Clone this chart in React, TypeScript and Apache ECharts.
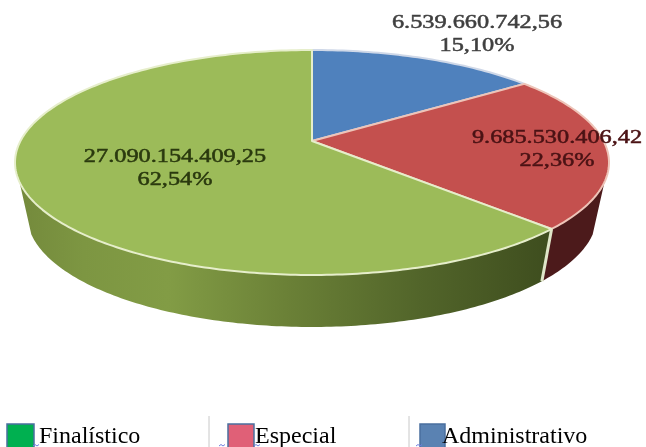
import React, { useEffect, useRef } from "react";
import * as echarts from "echarts";

const categories = ["Administrativo", "Especial", "Finalístico"];
const values = [6539660742.56, 9685530406.42, 27090154409.25];
const valueLabels = ["6.539.660.742,56", "9.685.530.406,42", "27.090.154.409,25"];
const percentLabels = ["15,10%", "22,36%", "62,54%"];
const faceColors = ["#4f81bd", "#c4504e", "#9cbb59"];
const legendNames = ["Finalístico", "Especial", "Administrativo"];
const legendColors = ["#00b050", "#e06077", "#5a82b2"];

const CX = 312, CY = 162.5, RX = 297, RY = 112.5;
const BX = 285, BY = 112, BCY = 215;
const APEX_Y = 141;
const K = 0.82;
const labelAnchors = [[477, 22, 45], [557, 137, 160], [175, 156, 179]];
const labelInk = ["#3f3f3f", "#4a1214", "#2a390e"];
const legendSwatchX = [7, 228, 420];
const legendSwatchW = [27, 26, 25];
const legendTextX = [39, 255, 442];
const legendRuleX = [209, 409];
const squiggleX = [33, 219, 254, 416];

const project = (theta: number) => 2 * Math.atan2(K * Math.sin(theta / 2), Math.cos(theta / 2));
const topPt = (p: number) => [CX + RX * Math.sin(p), CY - RY * Math.cos(p)];
const botPt = (p: number) => [CX + BX * Math.sin(p), BCY - BY * Math.cos(p)];
const rad = (d: number) => (d * Math.PI) / 180;

const wallFill = (i: number) =>
  i === 2
    ? new echarts.graphic.LinearGradient(1, 0, 0, 0, [
        { offset: 0, color: "#3e4d1e" },
        { offset: 0.25, color: "#52652a" },
        { offset: 0.5, color: "#6b8137" },
        { offset: 0.72, color: "#829c45" },
        { offset: 0.88, color: "#7d9642" },
        { offset: 1, color: "#748a3c" },
      ])
    : "#4c1a1b";

function renderItem(params: any, api: any) {
  const i = params.dataIndex;
  const total = values.reduce((a, b) => a + b, 0);
  const before = values.slice(0, i).reduce((a, b) => a + b, 0);
  const start = project((before / total) * 2 * Math.PI);
  const end = project(((before + api.value(0)) / total) * 2 * Math.PI);
  const n = Math.max(2, Math.ceil((end - start) / rad(1)));
  const children: any[] = [];

  const a = Math.max(start, rad(100));
  const b = Math.min(end, rad(260));
  if (b > a) {
    const m = Math.max(2, Math.ceil((b - a) / rad(1)));
    const wall: number[][] = [];
    for (let s = 0; s <= m; s++) wall.push(topPt(a + ((b - a) * s) / m));
    for (let s = m; s >= 0; s--) wall.push(botPt(a + ((b - a) * s) / m));
    children.push({ type: "polygon", z2: 1, shape: { points: wall }, style: { fill: wallFill(i) } });
    if (start > rad(100)) {
      const t = topPt(start), u = botPt(start);
      children.push({
        type: "line",
        z2: 2,
        shape: { x1: t[0], y1: t[1], x2: u[0], y2: u[1] },
        style: { stroke: "#dfe6c8", lineWidth: 3 },
      });
    }
  }

  const face: number[][] = [[CX, APEX_Y]];
  for (let s = 0; s <= n; s++) face.push(topPt(start + ((end - start) * s) / n));
  children.push({
    type: "polygon",
    z2: 3 + i,
    shape: { points: face },
    style: {
      fill: faceColors[i],
      stroke: i === 0 ? "#cfd8e8" : i === 1 ? "#eec4b8" : "#e6eecb",
      lineWidth: 2,
      lineJoin: "round",
    },
  });

  const [lx, y1, y2] = labelAnchors[i];
  [
    [valueLabels[i], y1],
    [percentLabels[i], y2],
  ].forEach(([text, y]) => {
    children.push({
      type: "text",
      z2: 20,
      x: lx,
      y: y as number,
      scaleX: 1.28,
      style: {
        text: text as string,
        align: "center",
        verticalAlign: "middle",
        fontFamily: "Liberation Serif",
        fontSize: 19,
        fill: labelInk[i],
        stroke: labelInk[i],
        lineWidth: 0.5,
      },
    });
  });
  return { type: "group", children };
}

export default function App() {
  const ref = useRef<HTMLDivElement>(null);
  useEffect(() => {
    const chart = echarts.init(ref.current!, null, { renderer: "svg" });
    const legend: any[] = [];
    legendNames.forEach((name, i) => {
      legend.push({
        type: "rect",
        shape: { x: legendSwatchX[i], y: 424, width: legendSwatchW[i], height: 27 },
        style: { fill: legendColors[i], stroke: "#4a6f9f", lineWidth: 1.5 },
      });
      legend.push({
        type: "text",
        x: legendTextX[i],
        y: 434.5,
        style: {
          text: name,
          fontFamily: "Liberation Serif",
          fontSize: 24,
          fill: "#000",
          verticalAlign: "middle",
        },
      });
    });
    legendRuleX.forEach((x) =>
      legend.push({ type: "line", shape: { x1: x, y1: 416, x2: x, y2: 447 }, style: { stroke: "#c8c8c8", lineWidth: 1 } })
    );
    squiggleX.forEach((x) =>
      legend.push({
        type: "polyline",
        shape: { points: [[x, 446], [x + 2, 444.5], [x + 4, 446], [x + 6, 444.5]] },
        style: { stroke: "#6f7fe0", lineWidth: 1, fill: "none" },
      })
    );
    chart.setOption({
      animation: false,
      backgroundColor: "#fff",
      graphic: legend,
      series: [
        {
          type: "custom",
          coordinateSystem: "none",
          renderItem,
          data: categories.map((name, i) => ({ name, value: [values[i]] })),
        },
      ],
    });
    return () => chart.dispose();
  }, []);
  return (
    <div
      ref={ref}
      style={{ position: "absolute", left: 0, top: 0, width: 646, height: 447, filter: "blur(0.5px)" }}
    />
  );
}
